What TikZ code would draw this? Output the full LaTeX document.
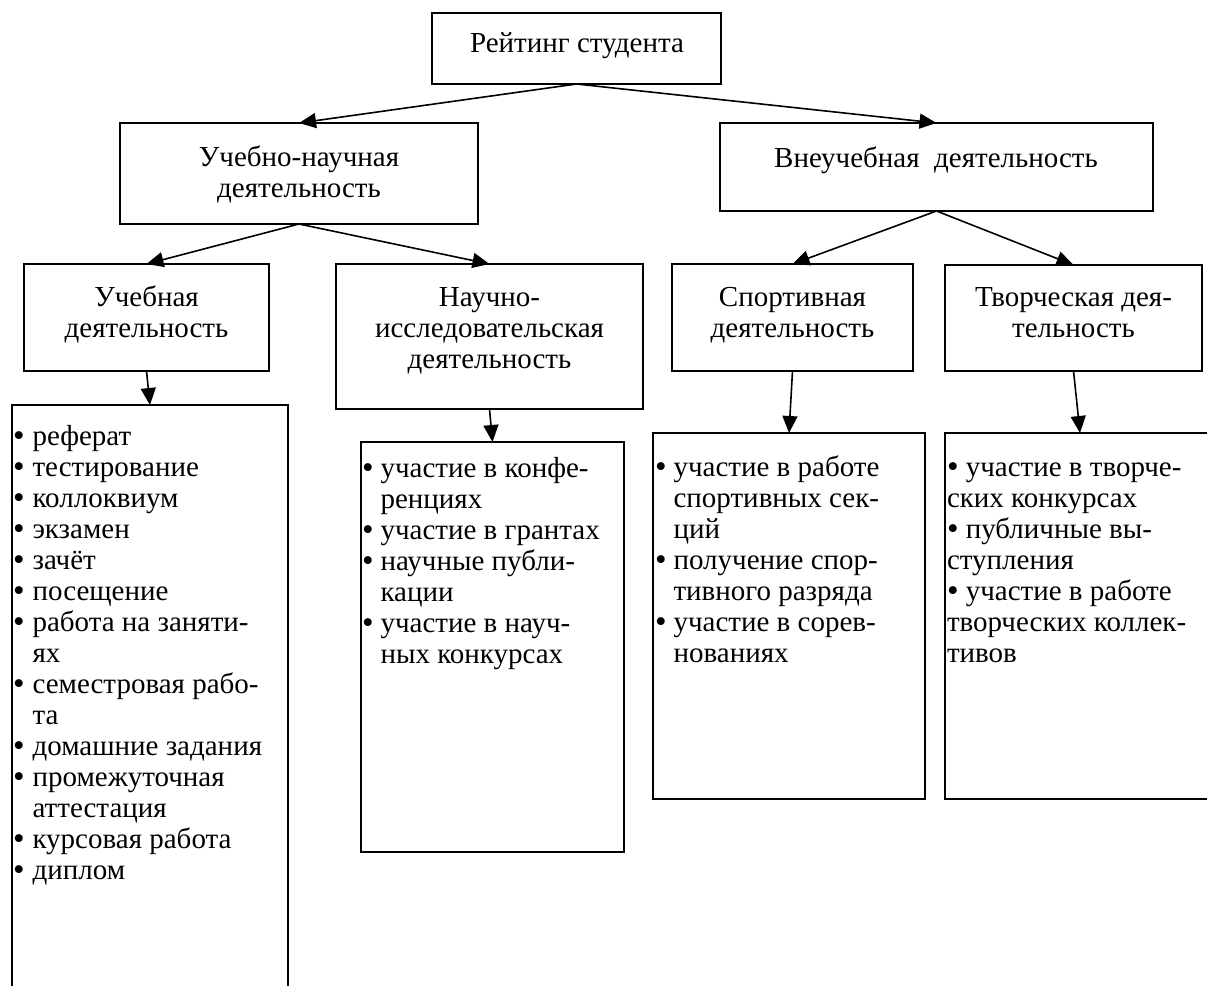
\documentclass[tikz,border=0pt]{standalone}
\usepackage{fontspec}
\setmainfont{Liberation Serif}
\usetikzlibrary{arrows.meta}

% text size used throughout the chart
\newcommand\chartsize{\fontsize{29}{31}\selectfont}
% list bullet, a little larger than the text and centred on the x-height
\newcommand\bul{\raisebox{-1.5pt}{\fontsize{33}{31}\selectfont •}}

\tikzset{
  box/.style={draw, line width=1.6pt, inner sep=0pt, outer sep=0pt, anchor=north west},
  txt/.style={inner sep=0pt, outer sep=0pt, anchor=base, font=\chartsize},
  lst/.style={inner sep=0pt, outer sep=0pt, anchor=base west, font=\chartsize},
  conn/.style={line width=1.6pt, -{Triangle[length=17pt,width=15pt]}},
}

\begin{document}
\begin{tikzpicture}[x=1pt,y=-1pt]
\useasboundingbox (0,0) rectangle (1207,985);

% ---- boxes ----
\node[box, minimum width=289pt, minimum height=71pt]  (top)   at (432,13)  {};
\node[box, minimum width=358pt, minimum height=101pt] (learn) at (120,123) {};
\node[box, minimum width=433pt, minimum height=88pt]  (extra) at (720,123) {};
\node[box, minimum width=245pt, minimum height=107pt] (study) at (24,264)  {};
\node[box, minimum width=307pt, minimum height=145pt] (sci)   at (336,264) {};
\node[box, minimum width=241pt, minimum height=107pt] (sport) at (672,264) {};
\node[box, minimum width=257pt, minimum height=106pt] (art)   at (945,265) {};

% list boxes (the first and last run past the page edge)
\node[box, minimum width=276pt, minimum height=600pt] (studyL) at (12,405)  {};
\node[box, minimum width=263pt, minimum height=410pt] (sciL)   at (361,442) {};
\node[box, minimum width=272pt, minimum height=366pt] (sportL) at (653,433) {};
\node[box, minimum width=270pt, minimum height=366pt] (artL)   at (945,433) {};

% ---- titles ----
\node[txt] (topT) at (577,52) {Рейтинг студента};
\node[txt] (learnT) at (299,166) {\begin{tabular}[t]{@{}c@{}}Учебно-научная\\деятельность\end{tabular}};
\node[txt] (extraT) at (936,167) {Внеучебная\ \ деятельность};
\node[txt] (studyT) at (146.5,306) {\begin{tabular}[t]{@{}c@{}}Учебная\\деятельность\end{tabular}};
\node[txt] (sciT) at (489.5,306) {\begin{tabular}[t]{@{}c@{}}Научно-\\исследовательская\\деятельность\end{tabular}};
\node[txt] (sportT) at (792.5,306) {\begin{tabular}[t]{@{}c@{}}Спортивная\\деятельность\end{tabular}};
\node[txt] (artT) at (1073.5,306) {\begin{tabular}[t]{@{}c@{}}Творческая дея-\\тельность\end{tabular}};

% ---- lists ----
\node[lst] (studyX) at (13,445) {\begin{tabular}[t]{@{}l@{\hspace{8pt}}l@{}}
\bul & реферат\\
\bul & тестирование\\
\bul & коллоквиум\\
\bul & экзамен\\
\bul & зачёт\\
\bul & посещение\\
\bul & работа на заняти-\\
     & ях\\
\bul & семестровая рабо-\\
     & та\\
\bul & домашние задания\\
\bul & промежуточная\\
     & аттестация\\
\bul & курсовая работа\\
\bul & диплом
\end{tabular}};

\node[lst] (sciX) at (362,477) {\begin{tabular}[t]{@{}l@{\hspace{7pt}}l@{}}
\bul & участие в конфе-\\
     & ренциях\\
\bul & участие в грантах\\
\bul & научные публи-\\
     & кации\\
\bul & участие в науч-\\
     & ных конкурсах
\end{tabular}};

\node[lst] (sportX) at (655,476) {\begin{tabular}[t]{@{}l@{\hspace{7pt}}l@{}}
\bul & участие в работе\\
     & спортивных сек-\\
     & ций\\
\bul & получение спор-\\
     & тивного разряда\\
\bul & участие в сорев-\\
     & нованиях
\end{tabular}};

\node[lst] (artX) at (947,476) {\begin{tabular}[t]{@{}l@{}}
\bul{} участие в творче-\\
ских конкурсах\\
\bul{} публичные вы-\\
ступления\\
\bul{} участие в работе\\
творческих коллек-\\
тивов
\end{tabular}};

% ---- connectors ----
\draw[conn] (top.south) -- (learn.north);
\draw[conn] (top.south) -- (extra.north);
\draw[conn] (learn.south) -- (study.north);
\draw[conn] (learn.south) -- (sci.north);
\draw[conn] (extra.south) -- (sport.north);
\draw[conn] (extra.south) -- (art.north);
\draw[conn] (study.south) -- (studyL.north);
\draw[conn] (sci.south) -- (sciL.north);
\draw[conn] (sport.south) -- (sportL.north);
\draw[conn] (art.south) -- (artL.north);
\end{tikzpicture}
\end{document}
